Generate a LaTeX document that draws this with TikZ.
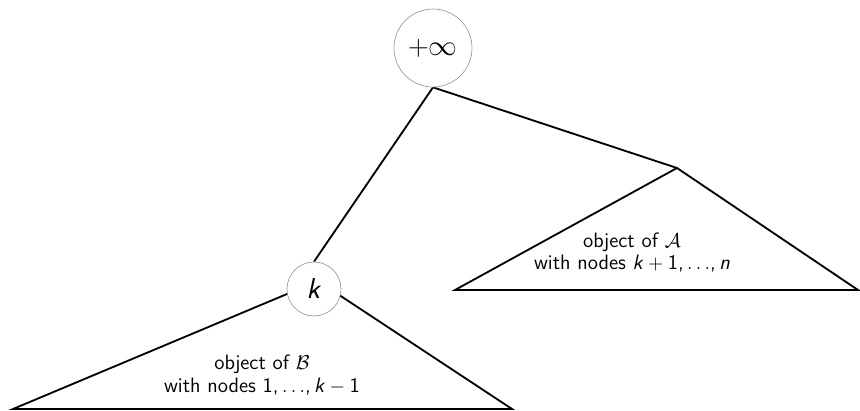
\documentclass[tikz,border=0pt]{standalone}
\usetikzlibrary{backgrounds}
\begin{document}
\begin{tikzpicture}[x=0.6pt,y=-0.6pt,
  circ/.style={circle,draw=black!40,fill=white,line width=0.4pt,inner sep=0pt},
  edge/.style={line width=1.1pt,line join=miter},
  lbl/.style={anchor=base,font=\fontsize{12.5}{15}\selectfont\sffamily,inner sep=0pt}]
\useasboundingbox (0,0) rectangle (860,411);
\node[circ,minimum size=46.8pt,font=\LARGE] (inf) at (433,48) {$+\infty$};
\node[circ,minimum size=32.4pt,font=\LARGE\sffamily] (k) at (314,289) {\textsl{k}};
\coordinate (a) at (677,168);
\coordinate (ral) at (455,290);
\coordinate (rar) at (858,290);
\coordinate (b) at (318,281);
\coordinate (lbl) at (13,409);
\coordinate (lbr) at (512,409);
\begin{scope}[on background layer]
\draw[edge] (k.north) -- (inf.south) -- (a);
\draw[edge] (a) -- (ral) -- (rar) -- cycle;
\draw[edge] (b) -- (lbl) -- (lbr) -- cycle;
\end{scope}
\node[lbl] (ta1) at (632,247) {object of $\mathcal{A}$};
\node[lbl] (ta2) at (632,270) {with nodes \textsl{k}${}+{}$1,\,$\ldots$,\,\textsl{n}};
\node[lbl] (tb1) at (262,369) {object of $\mathcal{B}$};
\node[lbl] (tb2) at (262,392) {with nodes 1,\,$\ldots$,\,\textsl{k}${}-{}$1};
\end{tikzpicture}
\end{document}
